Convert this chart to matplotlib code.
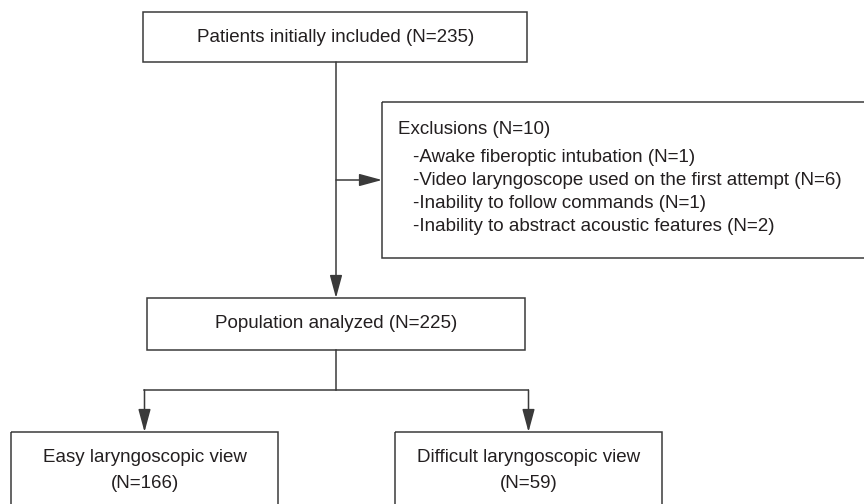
import matplotlib.pyplot as plt
from matplotlib.patches import Rectangle

# flowchart content
top_label = "Patients initially included"
top_n = 235
excl_label = "Exclusions"
excl_n = 10
excl_items = ["Awake fiberoptic intubation", "Video laryngoscope used on the first attempt",
              "Inability to follow commands", "Inability to abstract acoustic features"]
excl_counts = [1, 6, 1, 2]
mid_label = "Population analyzed"
mid_n = 225
group_labels = ["Easy laryngoscopic view", "Difficult laryngoscopic view"]
group_counts = [166, 59]

plt.rcParams['font.family'] = ['Liberation Sans', 'DejaVu Sans']
txt_col = '#231f20'
line_col = '#3a3a3a'
fs = 13.5

fig = plt.figure(figsize=(8.64, 5.04), dpi=100)
ax = fig.add_axes([0, 0, 1, 1])
ax.set_xlim(0, 864)
ax.set_ylim(504, 0)
ax.axis('off')


def box(x0, y0, x1, y1):
    ax.add_patch(Rectangle((x0, y0), x1 - x0, y1 - y0, fill=False,
                           edgecolor=line_col, lw=1.1, clip_on=False))


def arrow(x0, y0, x1, y1):
    ax.annotate('', xy=(x1, y1), xytext=(x0, y0),
                arrowprops=dict(arrowstyle='-|>,head_length=0.7,head_width=0.19',
                                mutation_scale=20, color=line_col, lw=1.1,
                                shrinkA=0, shrinkB=0))


# top box
box(143, 12, 527, 62)
ax.text(336, 37, f"{top_label} (N={top_n})", ha='center', va='center',
        fontsize=fs, color=txt_col)

# exclusions box
box(382, 102, 866, 258)
ax.text(398, 129, f"{excl_label} (N={excl_n})", ha='left', va='center',
        fontsize=fs, color=txt_col)
for i, (lab, n) in enumerate(zip(excl_items, excl_counts)):
    ax.text(413, 157 + i * 23.3, f"-{lab} (N={n})", ha='left', va='center',
            fontsize=fs, color=txt_col)

# main flow
arrow(336, 62, 336, 298)
arrow(336, 180, 382, 180)

box(147, 298, 525, 350)
ax.text(336, 324, f"{mid_label} (N={mid_n})", ha='center', va='center',
        fontsize=fs, color=txt_col)

ax.plot([336, 336], [350, 390], color=line_col, lw=1.1)
ax.plot([144, 528], [390, 390], color=line_col, lw=1.1)

centers = [144.5, 528.5]
for cx, lab, n in zip(centers, group_labels, group_counts):
    arrow(cx, 390, cx, 432)
    box(cx - 133.5, 432, cx + 133.5, 510)
    ax.text(cx, 458, lab, ha='center', va='center', fontsize=fs, color=txt_col)
    ax.text(cx, 483, f"(N={n})", ha='center', va='center', fontsize=fs, color=txt_col)

fig.savefig('out.png', dpi=100)
